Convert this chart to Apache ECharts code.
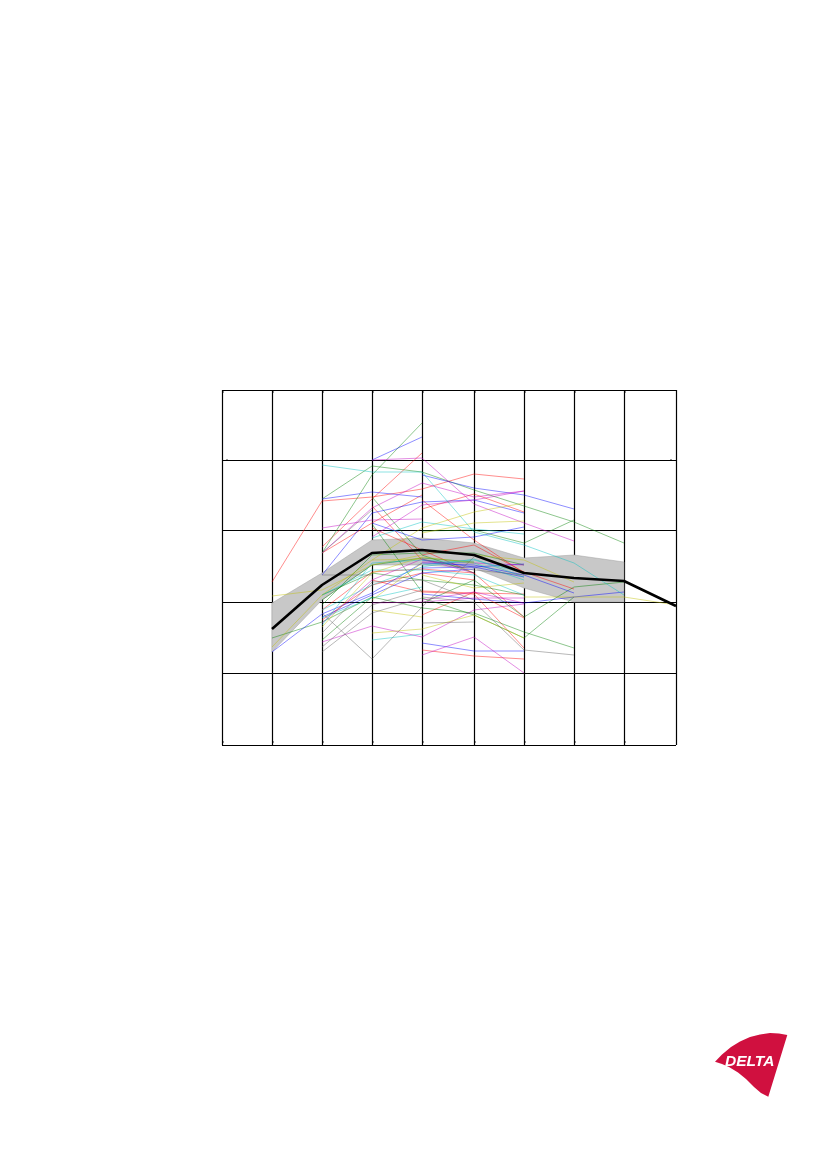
<!DOCTYPE html>
<html><head><meta charset="utf-8">
<style>html,body{margin:0;padding:0;background:#fff}#c{width:827px;height:1169px}</style>
<script src="https://cdn.jsdelivr.net/npm/echarts@6/dist/echarts.min.js"></script>
</head><body><div id="c"></div>
<script>
// band centre positions on the horizontal scale, and gridline values on the vertical scale
const bandPos = [0,50,100,150,200,252,302,352,402,454];
const yTicks = [0,71.5,142.5,215,285,355];
// each run: first band index, then values from that band on
const redRuns = [[1,163,244,248,256,271,266],[2,198,246,292],[2,192,222,250],[3,239,185],[4,236,251,233],[2,135,173,176,172,128],[3,165,153,151,97],[4,130,153,127],[4,154,152,151],[4,190,200,173,156],[4,95,89,86],[4,245,205,172],[3,217,195,172],[2,125,160,172,165]];
const greenRuns = [[2,246,279,273,255,239,223,202],[2,192,270,322],[3,221,153],[3,248,190,172],[2,105,148,137,132,113,97],[4,142,165,128,158,163],[4,147,130,107,148],[4,214,215,202,225],[1,107,123,148],[2,145,180,187,183],[2,140,190,192,192,180],[2,150,172,165,160,150]];
const blueRuns = [[3,285,308],[2,246,253,248],[4,270,257,250,236],[2,170,232,243,245,232],[3,222,205,208,218],[1,93,131,152,182,180,170,152],[4,151,146,142,148,153],[4,102,94,94],[4,177,178,181],[4,185,178,168],[2,128,150,172,176]];
const magentaRuns = [[3,285,287,241,222,204],[2,217,225,226],[2,192,237,262,248,254],[3,208,240,245,254],[2,103,119,108,135,141],[4,90,108,72],[4,145,153,142],[4,183,182,180],[3,142,143,147,147],[2,122,165,186,172]];
const cyanRuns = [[2,280,273,273,213,200,182,150],[2,120,182,185,182,165],[2,127,147,158],[3,105,111],[3,207,223,216,211],[2,150,175,175,170,150],[4,180,185,172],[2,135,160,178,186,168]];
const yellowRuns = [[1,149,155,180,190],[1,98,150,185,186],[3,145,182],[3,135,128],[3,112,116,130,107],[4,170,157,162],[5,190,185,163],[6,148,148,148,140],[3,185,217,233,242],[4,212,222,224],[2,118,172,188,182]];
const greyRuns = [[2,132,86,138,188],[2,93,132,147],[2,98,140,155],[2,112,163,165,145],[2,170,170],[4,148,143,95,90],[2,192,235],[4,186,175,170],[4,122,123]];
const bandUpper = [142,172,205,207,202,187,190,183];
const bandLower = [93,145,180,180,177,157,143,143];
const meanLine = [116,160,192,195,190,172,167,164,139];
const tickDotsY = [3,353];
const sideDots = [[5,285],[449,285]];
const logoOutline = [[715,1061.7],[722,1054.5],[731,1047],[740,1041.5],[750,1037],[760,1034.5],[770,1033],[779,1033.5],[787.3,1035],[768.3,1096.7],[761,1093],[754,1087],[746,1079],[738,1072.5],[729,1067],[722,1064]];

const runSets = [[redRuns,'#ff0000'],[greenRuns,'#008000'],[blueRuns,'#0000ff'],[magentaRuns,'#c000c0'],[cyanRuns,'#00c0c0'],[yellowRuns,'#c0c000'],[greyRuns,'#606060']];
const series = [];
const bandPts = (arr, start) => arr.map((v,i)=>[bandPos[i+start],v]);
const common = {type:'line',symbol:'none',silent:true,animation:false};
series.push({type:'custom',silent:true,animation:false,z:3,clip:false,
  data:bandUpper.map((v,i)=>[bandPos[i+1],bandLower[i],v]),
  renderItem:(params,api)=>{
    if(params.dataIndex!==0) return null;
    const top=bandUpper.map((v,i)=>api.coord([bandPos[i+1],v]));
    const bot=bandLower.map((v,i)=>api.coord([bandPos[i+1],v])).reverse();
    return {type:'polygon',shape:{points:top.concat(bot)},style:{fill:'#c8c8c8',stroke:'#a0a0a0',lineWidth:0.5}};
  }});
runSets.forEach(([runs,color])=>runs.forEach(r=>{
  series.push({...common,data:bandPts(r.slice(1),r[0]),lineStyle:{width:0.6,color,opacity:0.75},z:4});
}));
series.push({...common,data:bandPts(meanLine,1),lineStyle:{width:2.6,color:'#000'},z:6});
const dots=[...sideDots];
bandPos.forEach(x=>tickDotsY.forEach(y=>dots.push([x+1,y])));
series.push({type:'scatter',symbol:'rect',symbolSize:[2,1],silent:true,animation:false,data:dots,itemStyle:{color:'#000'},z:5});
const chart = echarts.init(document.getElementById('c'),null,{renderer:'canvas',width:827,height:1169});
const axisBase = {type:'value',axisLabel:{show:false},axisLine:{show:false},splitLine:{show:true,lineStyle:{color:'#000',width:1.2}}};
chart.setOption({
  backgroundColor:'#fff',animation:false,
  grid:{left:222,top:390,width:454,height:355},
  xAxis:{...axisBase,min:0,max:454,axisTick:{show:false,customValues:bandPos}},
  yAxis:{...axisBase,min:0,max:355,axisTick:{show:false,customValues:yTicks}},
  series,
  graphic:[
    {type:'polygon',shape:{points:logoOutline},style:{fill:'#d0103f'},silent:true},
    {type:'text',left:725,top:1054,style:{text:'DELTA',fill:'#fff',font:'italic 900 15.5px "Liberation Sans"'},silent:true}
  ]
});
</script></body></html>
